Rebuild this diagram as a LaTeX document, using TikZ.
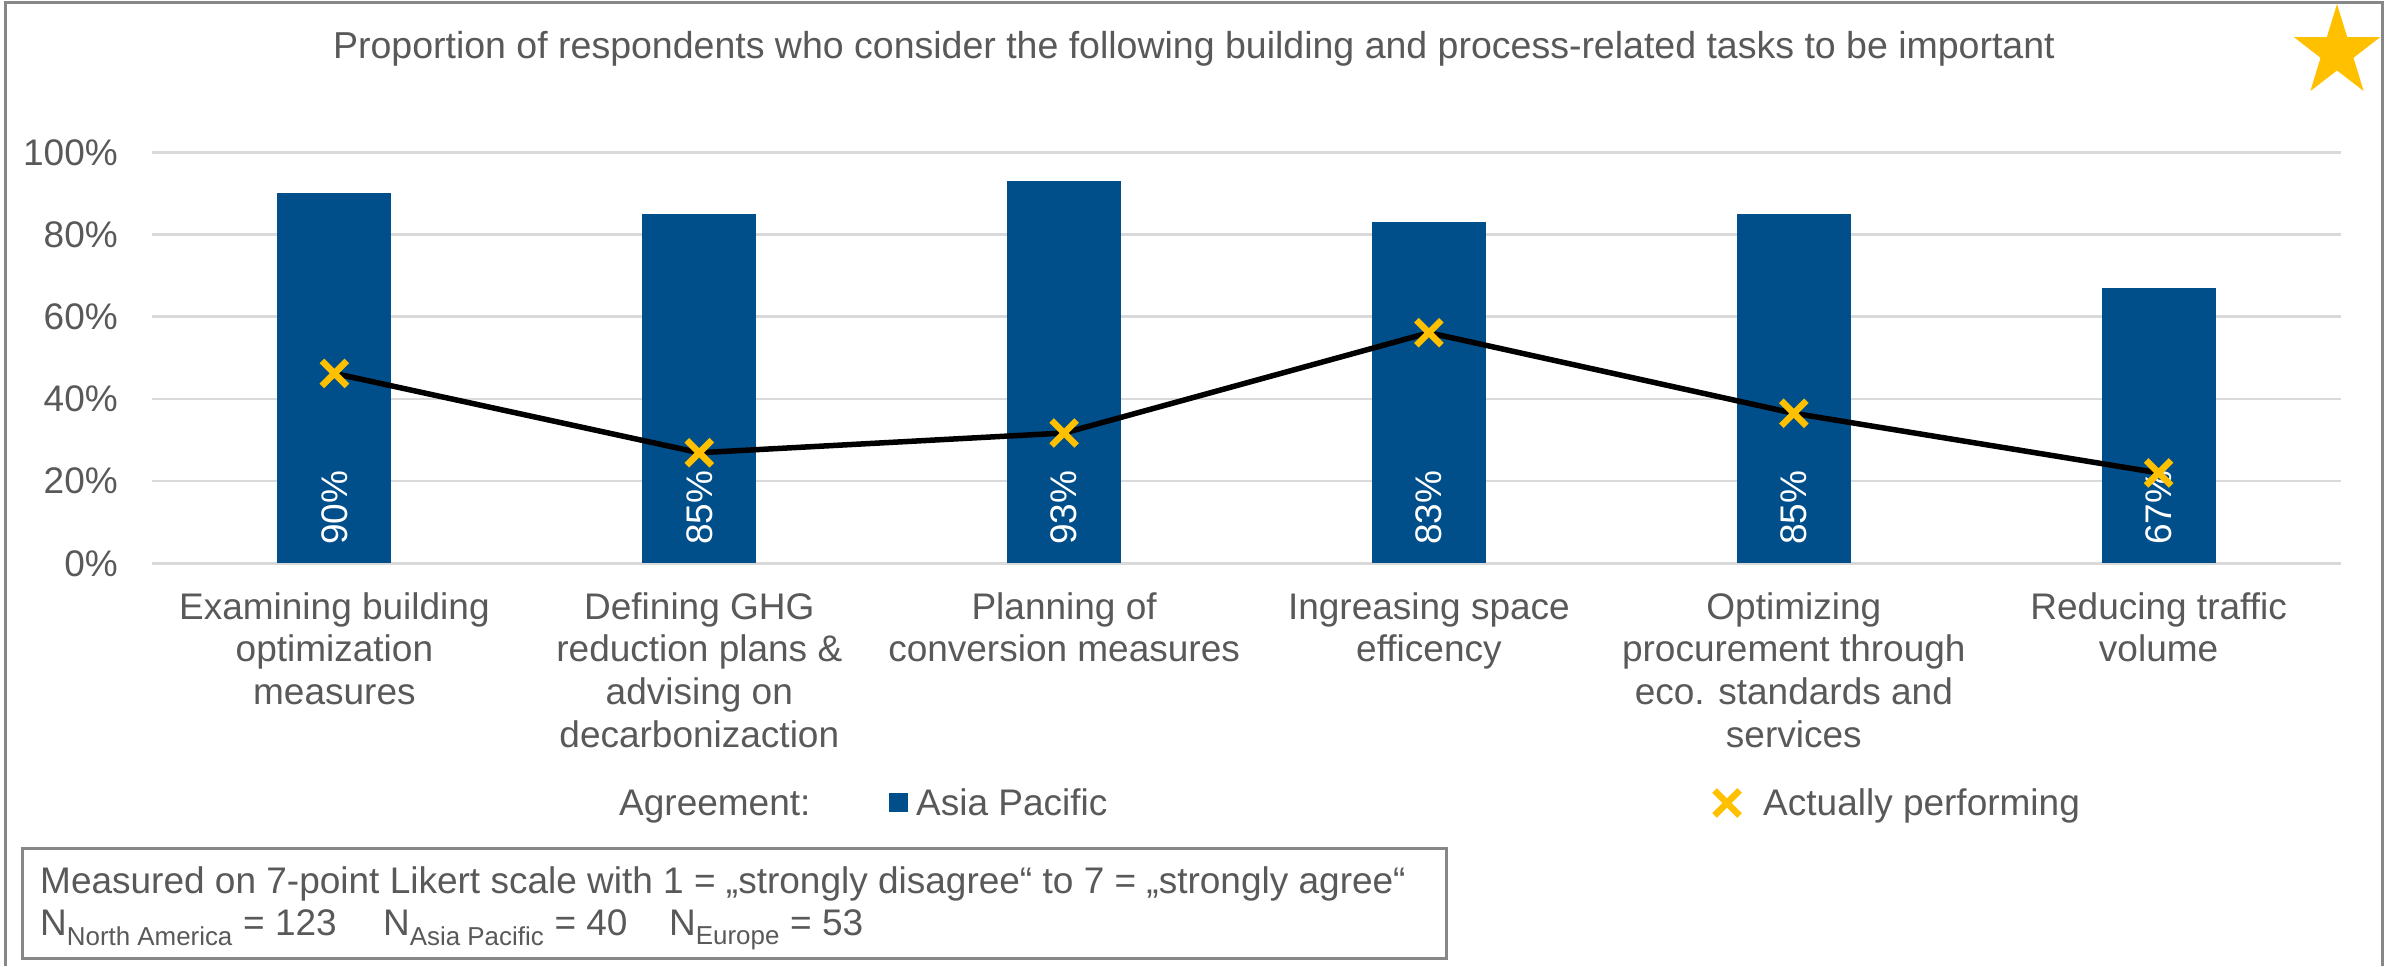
\documentclass[tikz,border=0pt]{standalone}
\usepackage{fontspec}
\setmainfont{Liberation Sans}
\definecolor{barblue}{HTML}{004F8A}
\definecolor{gold}{HTML}{FFC000}
\definecolor{txtgray}{HTML}{595959}
\definecolor{gridgray}{HTML}{D9D9D9}
\definecolor{framegray}{HTML}{878787}
\begin{document}
\begin{tikzpicture}[x=1pt,y=-1pt,
  lbl/.style={text=txtgray,font=\fontsize{37}{42}\selectfont,inner sep=0pt},
  cat/.style={lbl,anchor=north,align=center,font=\fontsize{37}{42.7}\selectfont},
  ylab/.style={lbl,anchor=east},
  bar/.style={fill=barblue,draw=none},
  barlab/.style={text=white,font=\fontsize{37}{42}\selectfont,inner sep=0pt,rotate=90,anchor=west},
  grid/.style={draw=gridgray,line width=2.5pt},
  perfline/.style={draw=black,line width=5.5pt},
  xmark/.pic={\draw[gold,line width=6.5pt] (-12.5,-12.5) -- (12.5,12.5) (-12.5,12.5) -- (12.5,-12.5);},
  frame/.style={draw=framegray,line width=3pt}]
\path[use as bounding box] (0,0) rectangle (2392,966);
\fill[white] (0,0) rectangle (2392,966);
% outer frame (bottom edge outside picture)
\draw[frame] (5,966) -- (5,3) -- (2382,3) -- (2382,966);
% title and star
\node[lbl,anchor=base,font=\fontsize{37.5}{42}\selectfont] (title) at (1194,59) {Proportion of respondents who consider the following building and process-related tasks to be important};
\fill[gold] (2337,4.0) -- (2347.2,37.2) -- (2380.0,37.2) -- (2353.5,57.8) -- (2363.6,91.0)
  -- (2337,70.5) -- (2310.4,91.0) -- (2320.5,57.8) -- (2294.0,37.2) -- (2326.8,37.2) -- cycle;
% gridlines and y labels
\foreach \v/\t in {0/0\%,20/20\%,40/40\%,60/60\%,80/80\%,100/100\%}{
  \draw[grid] (152,563.3-4.11*\v) -- (2341,563.3-4.11*\v);
  \node[ylab] (y\v) at (118,563.3-4.11*\v) {\t};
}
% bars
\foreach \i/\c/\v in {1/334.4/90,2/699.3/85,3/1064.1/93,4/1428.9/83,5/1793.8/85,6/2158.6/67}{
  \fill[bar] (\c-57,563.3) rectangle (\c+57,563.3-4.11*\v);
  \node[barlab] (bl\i) at (\c,545) {\v\%};
}
% actually performing line
\coordinate (p1) at (334.4,563.3-4.11*46.2);
\coordinate (p2) at (699.3,563.3-4.11*26.9);
\coordinate (p3) at (1064.1,563.3-4.11*31.7);
\coordinate (p4) at (1428.9,563.3-4.11*56.1);
\coordinate (p5) at (1793.8,563.3-4.11*36.5);
\coordinate (p6) at (2158.6,563.3-4.11*22.0);
\draw[perfline] (p1) -- (p2) -- (p3) -- (p4) -- (p5) -- (p6);
\foreach \p in {p1,p2,p3,p4,p5,p6}{ \pic at (\p) {xmark}; }
% category labels
\node[cat] (c1) at (334.4,592) {Examining building\\optimization\\measures};
\node[cat] (c2) at (699.3,592) {Defining GHG\\reduction plans \&\\advising on\\decarbonizaction};
\node[cat] (c3) at (1064.1,592) {Planning of\\conversion measures};
\node[cat] (c4) at (1428.9,592) {Ingreasing space\\efficency};
\node[cat] (c5) at (1793.8,592) {Optimizing\\procurement through\\eco. standards and\\services};
\node[cat] (c6) at (2158.6,592) {Reducing traffic\\volume};
% legend
\node[lbl,anchor=base west] (agr) at (619,815) {Agreement:};
\node[fill=barblue,minimum size=19pt,inner sep=0pt] (lsq) at (898.5,802.5) {};
\node[lbl,anchor=base west] (lap) at (916,815) {Asia Pacific};
\coordinate (lx) at (1727,803);
\pic at (lx) {xmark};
\node[lbl,anchor=base west] (lperf) at (1763,815) {Actually performing};
% note box
\node[frame,anchor=north west,minimum width=1424pt,minimum height=110pt,inner sep=0pt] (note) at (21,847) {};
\node[lbl,anchor=base west] (n1) at (40,893) {Measured on 7-point Likert scale with 1 = „strongly disagree“ to 7 = „strongly agree“};
\node[lbl,anchor=base west] (n2) at (40,935) {N\textsubscript{North America} = 123};
\node[lbl,anchor=base west] (n3) at (383,935) {N\textsubscript{Asia Pacific} = 40};
\node[lbl,anchor=base west] (n4) at (669,935) {N\textsubscript{Europe} = 53};
\end{tikzpicture}
\end{document}
